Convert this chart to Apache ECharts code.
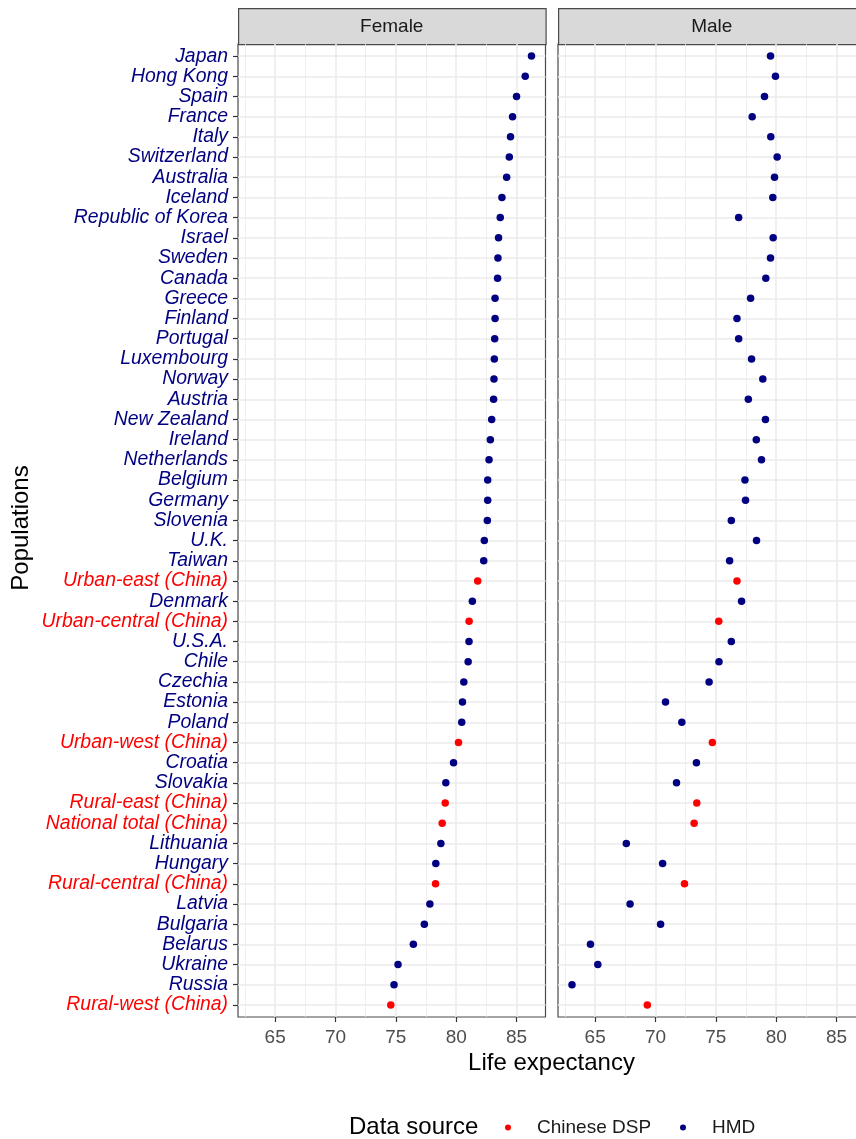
<!DOCTYPE html>
<html>
<head>
<meta charset="utf-8">
<script src="https://cdn.jsdelivr.net/npm/echarts@6/dist/echarts.min.js"></script>
<style>
  html, body { margin: 0; padding: 0; background: #fff; }
  #chart { width: 856px; height: 1139px; }
</style>
</head>
<body>
<div id="chart"></div>
<script>
// Populations, ordered by female life expectancy (top to bottom)
const populations = [
  'Japan', 'Hong Kong', 'Spain', 'France', 'Italy', 'Switzerland', 'Australia', 'Iceland',
  'Republic of Korea', 'Israel', 'Sweden', 'Canada', 'Greece', 'Finland', 'Portugal',
  'Luxembourg', 'Norway', 'Austria', 'New Zealand', 'Ireland', 'Netherlands', 'Belgium',
  'Germany', 'Slovenia', 'U.K.', 'Taiwan', 'Urban-east (China)', 'Denmark',
  'Urban-central (China)', 'U.S.A.', 'Chile', 'Czechia', 'Estonia', 'Poland',
  'Urban-west (China)', 'Croatia', 'Slovakia', 'Rural-east (China)', 'National total (China)',
  'Lithuania', 'Hungary', 'Rural-central (China)', 'Latvia', 'Bulgaria', 'Belarus',
  'Ukraine', 'Russia', 'Rural-west (China)'
];

// Data source of each population
const sources = [
  'HMD', 'HMD', 'HMD', 'HMD', 'HMD', 'HMD', 'HMD', 'HMD',
  'HMD', 'HMD', 'HMD', 'HMD', 'HMD', 'HMD', 'HMD',
  'HMD', 'HMD', 'HMD', 'HMD', 'HMD', 'HMD', 'HMD',
  'HMD', 'HMD', 'HMD', 'HMD', 'Chinese DSP', 'HMD',
  'Chinese DSP', 'HMD', 'HMD', 'HMD', 'HMD', 'HMD',
  'Chinese DSP', 'HMD', 'HMD', 'Chinese DSP', 'Chinese DSP',
  'HMD', 'HMD', 'Chinese DSP', 'HMD', 'HMD', 'HMD',
  'HMD', 'HMD', 'Chinese DSP'
];

// Life expectancy at birth, females
const femaleLE = [
  86.24, 85.72, 85.00, 84.67, 84.50, 84.40, 84.18, 83.79,
  83.65, 83.51, 83.46, 83.43, 83.22, 83.22, 83.19,
  83.16, 83.13, 83.10, 82.94, 82.83, 82.72, 82.61,
  82.61, 82.58, 82.33, 82.28, 81.78, 81.34,
  81.07, 81.06, 80.99, 80.63, 80.52, 80.46,
  80.19, 79.78, 79.14, 79.09, 78.84,
  78.73, 78.31, 78.29, 77.82, 77.36, 76.45,
  75.18, 74.85, 74.58
];

// Life expectancy at birth, males
const maleLE = [
  79.53, 79.94, 79.03, 78.01, 79.55, 80.08, 79.86, 79.72,
  76.89, 79.75, 79.53, 79.14, 77.88, 76.75, 76.89,
  77.96, 78.89, 77.69, 79.11, 78.35, 78.78, 77.41,
  77.46, 76.28, 78.37, 76.14, 76.75, 77.13,
  75.24, 76.28, 75.26, 74.44, 70.83, 72.18,
  74.71, 73.39, 71.74, 73.42, 73.20,
  67.58, 70.59, 72.40, 67.89, 70.42, 64.61,
  65.22, 63.08, 69.32
];

const panels = ['Female', 'Male'];
const sourceNames = ['Chinese DSP', 'HMD'];
const sourceColors = { 'Chinese DSP': '#ff0000', 'HMD': '#000080' };

// Axis ticks
const xMajorTicks = [65, 70, 75, 80, 85];
const xMinorTicks = [62.5, 67.5, 72.5, 77.5, 82.5, 87.5];
const xRange = [61.92, 87.4];

const FONT = 'Liberation Sans, Arial, Helvetica, sans-serif';
const rowIdx = populations.map((_, i) => i);

// panel geometry
const P = { top: 44, height: 973, width: 307.5, lefts: [238, 558] };
const FRAME = '#4a4a4a';

const chart = echarts.init(document.getElementById('chart'), null, { renderer: 'canvas' });

const grids = P.lefts.map(l => ({
  left: l, top: P.top, width: P.width, height: P.height,
  containLabel: false, outerBoundsMode: 'none',
  show: true, borderColor: FRAME, borderWidth: 1.2, backgroundColor: '#ffffff'
}));

const xAxes = [];
P.lefts.forEach((_, g) => {
  xAxes.push({
    type: 'value', gridIndex: g, min: xRange[0], max: xRange[1], position: 'bottom',
    axisLine: { show: false, onZero: false },
    axisTick: { show: true, customValues: xMajorTicks, length: 5, lineStyle: { color: '#333333', width: 1.2 } },
    axisLabel: { customValues: xMajorTicks, color: '#4d4d4d', fontSize: 19, fontFamily: FONT, margin: 11 },
    splitLine: { show: true, lineStyle: { color: '#ebebeb', width: 1.6 } }
  });
  xAxes.push({
    type: 'value', gridIndex: g, min: xRange[0], max: xRange[1], position: 'top',
    axisLine: { show: false, onZero: false },
    axisTick: { show: false, customValues: xMinorTicks },
    axisLabel: { show: false },
    splitLine: { show: true, lineStyle: { color: '#ebebeb', width: 0.8 } }
  });
});

const yAxes = P.lefts.map((_, g) => ({
  type: 'value', gridIndex: g, min: -0.6, max: populations.length - 0.4, inverse: true,
  axisLine: { show: false, onZero: false },
  axisTick: { show: g === 0, customValues: rowIdx, length: 5, lineStyle: { color: '#333333', width: 1.2 } },
  axisLabel: {
    show: g === 0, customValues: rowIdx, margin: 10,
    formatter: v => {
      const k = sources[v] === 'Chinese DSP' ? 'c' : 'h';
      return '{' + k + '|' + populations[v] + '}';
    },
    rich: {
      c: { color: '#ff0000', fontStyle: 'italic', fontSize: 19.4, fontFamily: FONT },
      h: { color: '#000080', fontStyle: 'italic', fontSize: 19.4, fontFamily: FONT }
    }
  },
  splitLine: { show: true, lineStyle: { color: '#ebebeb', width: 1.6 } }
}));

const series = [];
[femaleLE, maleLE].forEach((vals, g) => {
  sourceNames.forEach(src => {
    const data = [];
    vals.forEach((v, i) => { if (sources[i] === src) data.push([v, i]); });
    series.push({
      name: src, type: 'scatter', xAxisIndex: g * 2, yAxisIndex: g,
      symbol: 'circle', symbolSize: 7.5, data,
      itemStyle: { color: sourceColors[src], opacity: 1 },
      emphasis: { disabled: true }
    });
  });
});

const legendCommon = {
  orient: 'horizontal', top: 1118, padding: 0, icon: 'circle',
  itemWidth: 6, itemHeight: 6, itemGap: 0, selectedMode: false,
  textStyle: { fontSize: 19, fontFamily: FONT, color: '#1a1a1a', padding: [0, 0, 0, 21] }
};

const graphic = [];
panels.forEach((name, g) => {
  graphic.push({
    type: 'rect', left: P.lefts[g], top: 8,
    shape: { x: 0, y: 0, width: P.width, height: 36 },
    style: { fill: '#d9d9d9', stroke: FRAME, lineWidth: 1.2 }
  });
  graphic.push({
    type: 'text', x: P.lefts[g] + P.width / 2, y: 26.5,
    style: { text: name, fill: '#1a1a1a', font: '19px ' + FONT, textAlign: 'center', textVerticalAlign: 'middle' }
  });
});
graphic.push({
  type: 'text', x: 551.5, y: 1063,
  style: { text: 'Life expectancy', fill: '#000', font: '24px ' + FONT, textAlign: 'center', textVerticalAlign: 'middle' }
});
graphic.push({
  type: 'text', x: 21, y: 528, rotation: Math.PI / 2,
  style: { text: 'Populations', fill: '#000', font: '24px ' + FONT, textAlign: 'center', textVerticalAlign: 'middle' }
});
graphic.push({
  type: 'text', x: 349, y: 1127,
  style: { text: 'Data source', fill: '#000', font: '24px ' + FONT, textAlign: 'left', textVerticalAlign: 'middle' }
});

chart.setOption({
  animation: false,
  backgroundColor: '#ffffff',
  grid: grids,
  xAxis: xAxes,
  yAxis: yAxes,
  series,
  legend: [
    Object.assign({}, legendCommon, { left: 505, data: ['Chinese DSP'] }),
    Object.assign({}, legendCommon, { left: 680, data: ['HMD'] })
  ],
  graphic
});
</script>
</body>
</html>
